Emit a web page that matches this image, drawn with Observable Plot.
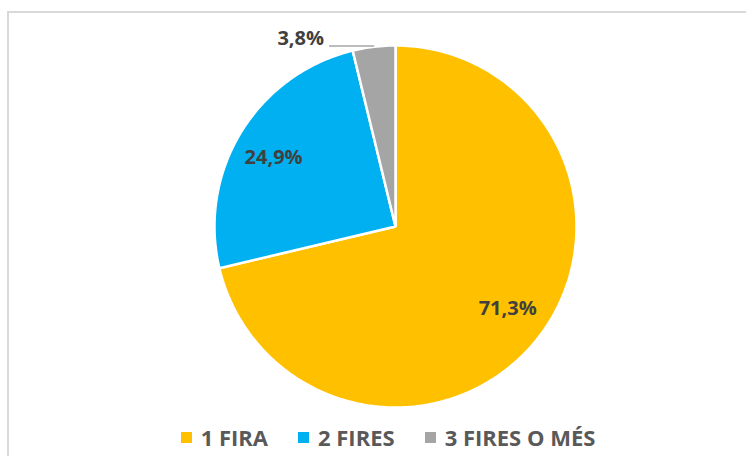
<!DOCTYPE html>
<html>
<head>
<meta charset="utf-8">
<script src="https://cdn.jsdelivr.net/npm/d3@7"></script>
<script src="https://cdn.jsdelivr.net/npm/@observablehq/plot@0.6"></script>
<style>
  html, body { margin: 0; padding: 0; background: #fff; }
  #wrap { position: relative; width: 746px; height: 456px; overflow: hidden; background: #fff; font-family: "Open Sans", sans-serif; }
  #frame { position: absolute; left: 7px; top: 11px; width: 800px; height: 500px; border-top: 2px solid #d9d9d9; border-left: 2px solid #d9d9d9; box-sizing: border-box; }
  #chart { position: absolute; left: 0; top: 0; }
  #legend { position: absolute; left: 0; top: 422px; width: 746px; box-sizing: border-box; padding-left: 30px; display: flex; justify-content: center; align-items: center; }
  .item { display: flex; align-items: center; margin: 0 15px; font-weight: 700; font-size: 22px; color: #595959; }
  .sw { width: 11px; height: 11px; margin-right: 9px; }
</style>
</head>
<body>
<div id="wrap">
  <div id="frame"></div>
  <div id="chart"></div>
  <div id="legend"></div>
</div>
<script>
const categories = ["1 FIRA", "2 FIRES", "3 FIRES O MÉS"];
const values = [71.3, 24.9, 3.8];
const labels = ["71,3%", "24,9%", "3,8%"];
const colors = ["#FFC000", "#00B0F0", "#A5A5A5"];

const pie = d3.pie().sort(null).value(d => d.value);
const arcs = pie(categories.map((c, i) => ({cat: c, value: values[i], label: labels[i]})));

// polygon points for each slice
const polys = [];
for (const a of arcs) {
  polys.push({cat: a.data.cat, x: 0, y: 0});
  const n = Math.max(2, Math.ceil((a.endAngle - a.startAngle) / (Math.PI * 2) * 360));
  for (let k = 0; k <= n; k++) {
    const t = a.startAngle + (a.endAngle - a.startAngle) * k / n;
    polys.push({cat: a.data.cat, x: Math.sin(t), y: Math.cos(t)});
  }
}

const inner = arcs.filter(a => a.data.value > 10).map(a => {
  const m = (a.startAngle + a.endAngle) / 2;
  return {label: a.data.label, x: 0.79 * Math.sin(m), y: 0.73 * Math.cos(m)};
});
const outer = arcs.filter(a => a.data.value <= 10).map(a => {
  const m = (a.startAngle + a.endAngle) / 2;
  const px = Math.sin(m) * 0.985, py = Math.cos(m) * 1.005;
  return {label: a.data.label, x1: px, y1: py, x2: px - 0.25, y2: py};
});

const W = 746, H = 420;
const chart = Plot.plot({
  width: W,
  height: H,
  marginLeft: 214,
  marginRight: 170,
  marginTop: 45,
  marginBottom: 13,
  x: {domain: [-1, 1], axis: null},
  y: {domain: [-1, 1], axis: null},
  color: {domain: categories, range: colors},
  style: {fontFamily: "Open Sans, sans-serif", background: "transparent", overflow: "visible"},
  marks: [
    Plot.line(polys, {x: "x", y: "y", z: "cat", fill: "cat", stroke: "white", strokeWidth: 2.5, strokeLinejoin: "miter", curve: "linear-closed"}),
    Plot.text(inner, {x: "x", y: "y", text: "label", fill: "#404040", fontSize: 20, fontWeight: "bold"}),
    Plot.link(outer, {x1: "x1", y1: "y1", x2: "x2", y2: "y2", stroke: "#A6A6A6", strokeWidth: 1.5}),
    Plot.text(outer, {x: "x2", y: "y2", text: "label", fill: "#404040", fontSize: 20, fontWeight: "bold", textAnchor: "end", dx: -5, dy: -7})
  ]
});
document.getElementById("chart").appendChild(chart);

const color = chart.scale("color");
const legend = document.getElementById("legend");
for (const c of categories) {
  const it = document.createElement("div");
  it.className = "item";
  const sw = document.createElement("span");
  sw.className = "sw";
  sw.style.background = color.apply(c);
  const tx = document.createElement("span");
  tx.textContent = c;
  it.appendChild(sw);
  it.appendChild(tx);
  legend.appendChild(it);
}
</script>
</body>
</html>
